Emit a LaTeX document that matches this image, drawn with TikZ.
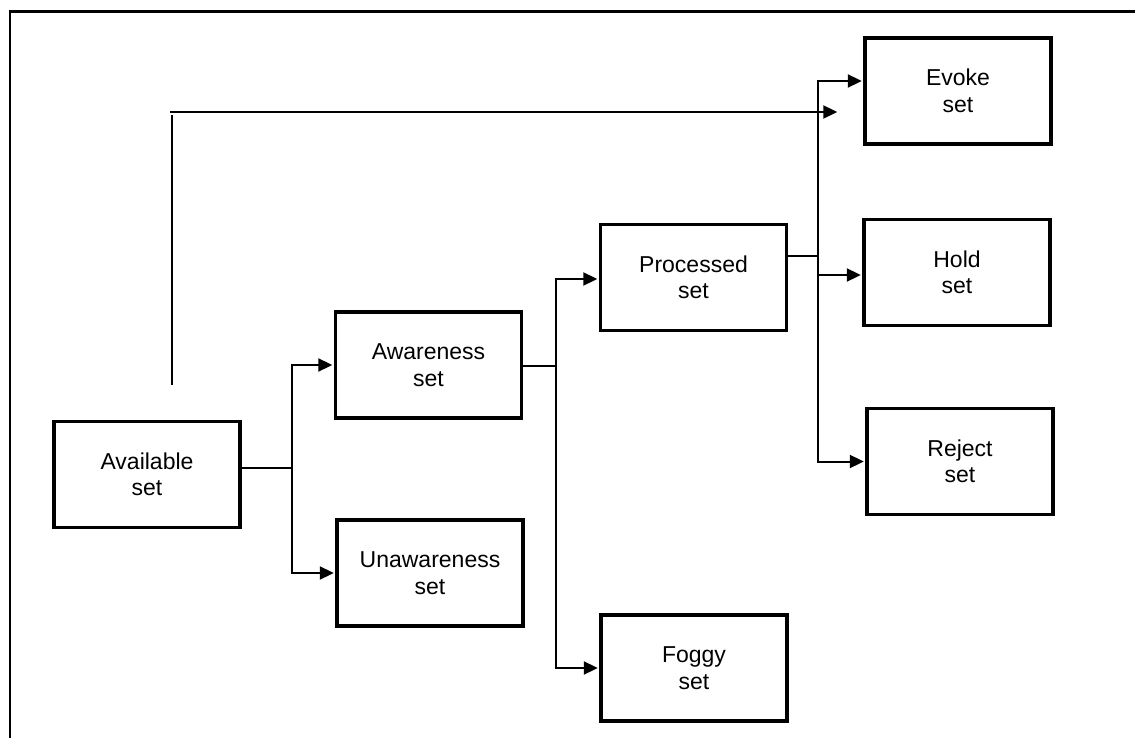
\documentclass[tikz,border=0pt]{standalone}
\usepackage{fontspec}
\setmainfont{Liberation Sans}
\usetikzlibrary{arrows.meta}
\begin{document}
\begin{tikzpicture}[x=1pt,y=-1pt,
  box/.style={draw,line width=3.4pt,minimum width=186pt,minimum height=106pt,
    align=center,inner sep=0pt,font=\fontsize{23}{26.5}\selectfont},
  link/.style={line width=2pt},
  arr/.style={link,-{Triangle[length=14pt,width=13pt]},shorten >=1.5pt}]
\useasboundingbox (0,0) rectangle (1135,738);
% frame (left and top edges)
\draw[line width=2.6pt] (10,738) -- (10,11.5) -- (1135,11.5);

% boxes
\node[box] (avail)   at (147,474.5) {Available\\set};
\node[box] (aware)   at (428.5,365) {Awareness\\set};
\node[box] (unaware) at (430,573)   {Unawareness\\set};
\node[box] (proc)    at (693.5,277.5) {Processed\\set};
\node[box] (foggy)   at (694,668)   {Foggy\\set};
\node[box] (evoke)   at (958,91)    {Evoke\\set};
\node[box] (hold)    at (957,272.5) {Hold\\set};
\node[box] (reject)  at (960,461.5) {Reject\\set};

% junction points of the branch lines
\coordinate (j1) at (292,468);
\coordinate (j2) at (556,366);
\coordinate (j3) at (818,256);
\coordinate (lstart) at (172,385);
\coordinate (lcorner) at (172,112);

% available -> awareness / unawareness
\draw[link] (avail.east |- j1) -- (j1);
\draw[arr] (j1) -- (j1 |- aware.west) -- (aware.west);
\draw[arr] (j1) -- (j1 |- unaware.west) -- (unaware.west);

% awareness -> processed / foggy
\draw[link] (aware.east |- j2) -- (j2);
\draw[arr] (j2) -- (j2 |- 0,279) -- (proc.west |- 0,279);
\draw[arr] (j2) -- (j2 |- foggy.west) -- (foggy.west);

% processed -> evoke / hold / reject
\draw[link] (proc.east |- j3) -- (j3);
\draw[arr] (j3) -- (j3 |- 0,81) -- (evoke.west |- 0,81);
\draw[arr] (j3) -- (j3 |- 0,275) -- (hold.west |- 0,275);
\draw[arr] (j3) -- (j3 |- reject.west) -- (reject.west);

% direct path from the available set towards the evoke set
\draw[link] (lstart) -- ([yshift=-3pt]lcorner);
\draw[arr,shorten >=26pt] ([xshift=-2pt]lcorner) -- (lcorner -| evoke.west);
\end{tikzpicture}
\end{document}
